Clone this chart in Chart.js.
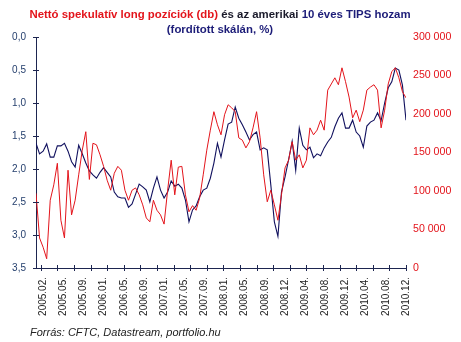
<!DOCTYPE html>
<html>
<head>
<meta charset="utf-8">
<script src="https://cdn.jsdelivr.net/npm/chart.js@4.4.1/dist/chart.umd.min.js"></script>
<style>
  body { margin: 0; background: #fff; }
  #wrap { position: relative; width: 461px; height: 342px; font-family: "Liberation Sans", Arial, sans-serif; }
  #title { position: absolute; left: 0; top: 7px; width: 440px; text-align: center; font-size: 11.4px; font-weight: bold; line-height: 15px; color: #1c1c78; }
  #title .red { color: #e3141b; }
  #title .dark { color: #1a1a2a; }
  #source { position: absolute; left: 30px; top: 326px; font-size: 11px; font-style: italic; color: #222; }
  canvas { position: absolute; left: 0; top: 0; }
</style>
</head>
<body>
<div id="wrap">
  <canvas id="tipsChart" width="461" height="342"></canvas>
  <div id="title"><span class="red">Nettó spekulatív long pozíciók (db)</span> <span class="dark">és az amerikai</span> 10 éves TIPS hozam<br>(fordított skálán, %)</div>
  <div id="source">Forrás: CFTC, Datastream, portfolio.hu</div>
</div>
<script>
// weekly series, one sample every 3 weeks starting early January 2005
var sampleStep = 3;

// 10 year TIPS yield, % (left axis, reversed)
var tipsYield = [
  1.61, 1.77, 1.73, 1.62, 1.82, 1.82, 1.65, 1.65, 1.61, 1.73,
  1.89, 1.97, 1.64, 1.77, 1.91, 2.03, 2.09, 2.14, 2.05, 1.98,
  2.05, 2.12, 2.35, 2.42, 2.44, 2.44, 2.58, 2.53, 2.38, 2.23,
  2.27, 2.32, 2.50, 2.29, 2.12, 2.32, 2.44, 2.35, 2.18, 2.26,
  2.23, 2.29, 2.47, 2.80, 2.62, 2.56, 2.42, 2.32, 2.29, 2.14,
  1.91, 1.61, 1.82, 1.56, 1.32, 1.29, 1.06, 1.23, 1.33, 1.44,
  1.56, 1.48, 1.44, 1.71, 1.68, 1.71, 2.24, 2.80, 3.02, 2.35,
  2.12, 1.86, 1.58, 2.02, 1.38, 1.64, 1.71, 1.67, 1.83, 1.77,
  1.80, 1.68, 1.59, 1.52, 1.36, 1.23, 1.15, 1.38, 1.38, 1.26,
  1.44, 1.50, 1.67, 1.35, 1.29, 1.26, 1.15, 1.27, 1.00, 0.77,
  0.68, 0.47, 0.50, 0.73, 1.26
];

// net speculative long positions, contracts (right axis)
var netLong = [
  97000, 39000, 27000, 12000, 88000, 108000, 136000, 62000, 39000, 127000,
  69000, 88000, 121000, 153000, 177000, 115000, 162000, 160000, 147000, 132000,
  114000, 101000, 123000, 132000, 127000, 101000, 88000, 101000, 104000, 95000,
  82000, 65000, 60000, 88000, 75000, 69000, 57000, 101000, 140000, 95000,
  131000, 132000, 95000, 73000, 81000, 75000, 91000, 121000, 153000, 179000,
  203000, 186000, 173000, 199000, 212000, 208000, 203000, 169000, 166000, 156000,
  164000, 182000, 203000, 169000, 121000, 86000, 101000, 82000, 62000, 95000,
  130000, 140000, 164000, 140000, 147000, 130000, 140000, 182000, 173000, 179000,
  192000, 179000, 231000, 239000, 247000, 238000, 260000, 242000, 222000, 195000,
  205000, 190000, 205000, 231000, 235000, 238000, 231000, 182000, 205000, 239000,
  255000, 260000, 247000, 229000, 221000
];

var tickLabels = [
  '2005.02.', '2005.05.', '2005.09.', '2006.01.', '2006.05.', '2006.09.',
  '2007.01.', '2007.05.', '2007.09.', '2008.01.', '2008.05.', '2008.09.',
  '2008.12.', '2009.04.', '2009.08.', '2009.12.', '2010.04.', '2010.08.', '2010.12.'
];
var labelWeeks = [6, 23, 40, 57, 74, 91, 108, 125, 142, 159, 176, 193, 210, 227, 244, 261, 278, 295, 312];
var lastWeek = 312;

var navy = '#10105e';
var red = '#e3141b';

function toPoints(values) {
  return values.map(function (v, i) { return { x: i * sampleStep, y: v }; });
}

function spaced(v) {
  return String(v).replace(/\B(?=(\d{3})+(?!\d))/g, ' ');
}

// small tick marks crossing the left and bottom axis lines
var axisMarks = {
  id: 'axisMarks',
  afterDraw: function (chart) {
    var ctx = chart.ctx, area = chart.chartArea;
    var xs = chart.scales.x, ys = chart.scales.y;
    ctx.save();
    ctx.strokeStyle = '#1d2550';
    ctx.lineWidth = 1;
    ctx.beginPath();
    ys.ticks.forEach(function (t) {
      var py = Math.round(ys.getPixelForValue(t.value)) + 0.5;
      ctx.moveTo(area.left - 3, py);
      ctx.lineTo(area.left + 3, py);
    });
    for (var w = 4; w <= lastWeek; w += 14) {
      var px = Math.round(xs.getPixelForValue(w)) + 0.5;
      ctx.moveTo(px, area.bottom - 3);
      ctx.lineTo(px, area.bottom + 3);
    }
    ctx.stroke();
    ctx.restore();
  }
};

Chart.defaults.font.family = '"Liberation Sans", Arial, sans-serif';
Chart.defaults.font.size = 10;

var ctx = document.getElementById('tipsChart').getContext('2d');
var chart = new Chart(ctx, {
  type: 'line',
  data: {
    datasets: [
      {
        label: 'Nettó spekulatív long pozíciók (db)',
        data: toPoints(netLong),
        yAxisID: 'y1',
        borderColor: red,
        borderWidth: 1,
        pointRadius: 0,
        tension: 0
      },
      {
        label: '10 éves TIPS hozam',
        data: toPoints(tipsYield),
        yAxisID: 'y',
        borderColor: navy,
        borderWidth: 1.1,
        pointRadius: 0,
        tension: 0
      }
    ]
  },
  options: {
    responsive: false,
    animation: false,
    layout: { padding: { top: 37, left: 0, right: 0, bottom: 0 } },
    plugins: { legend: { display: false }, tooltip: { enabled: false } },
    scales: {
      x: {
        type: 'linear',
        min: 0,
        max: lastWeek,
        afterBuildTicks: function (scale) {
          scale.ticks = labelWeeks.map(function (w) { return { value: w }; });
        },
        afterFit: function (scale) { scale.height = 74; },
        ticks: {
          autoSkip: false,
          minRotation: 90,
          maxRotation: 90,
          padding: 9,
          color: '#222',
          callback: function (v) {
            var i = labelWeeks.indexOf(v);
            return i >= 0 ? tickLabels[i] : '';
          }
        },
        grid: { display: false, drawTicks: false },
        border: { display: true, color: '#1d2550' }
      },
      y: {
        position: 'left',
        reverse: true,
        min: 0,
        max: 3.5,
        afterFit: function (scale) { scale.width = 36; },
        ticks: {
          stepSize: 0.5,
          padding: 10,
          color: '#26406e',
          callback: function (v) { return v.toFixed(1).replace('.', ','); }
        },
        grid: { display: false, drawTicks: false },
        border: { display: true, color: '#1d2550' }
      },
      y1: {
        position: 'right',
        min: 0,
        max: 300000,
        afterFit: function (scale) { scale.width = 55; },
        ticks: {
          stepSize: 50000,
          padding: 7,
          color: red,
          font: { size: 10.6 },
          callback: function (v) { return spaced(v); }
        },
        grid: { display: false, drawTicks: false },
        border: { display: false }
      }
    }
  },
  plugins: [axisMarks]
});
</script>
</body>
</html>
